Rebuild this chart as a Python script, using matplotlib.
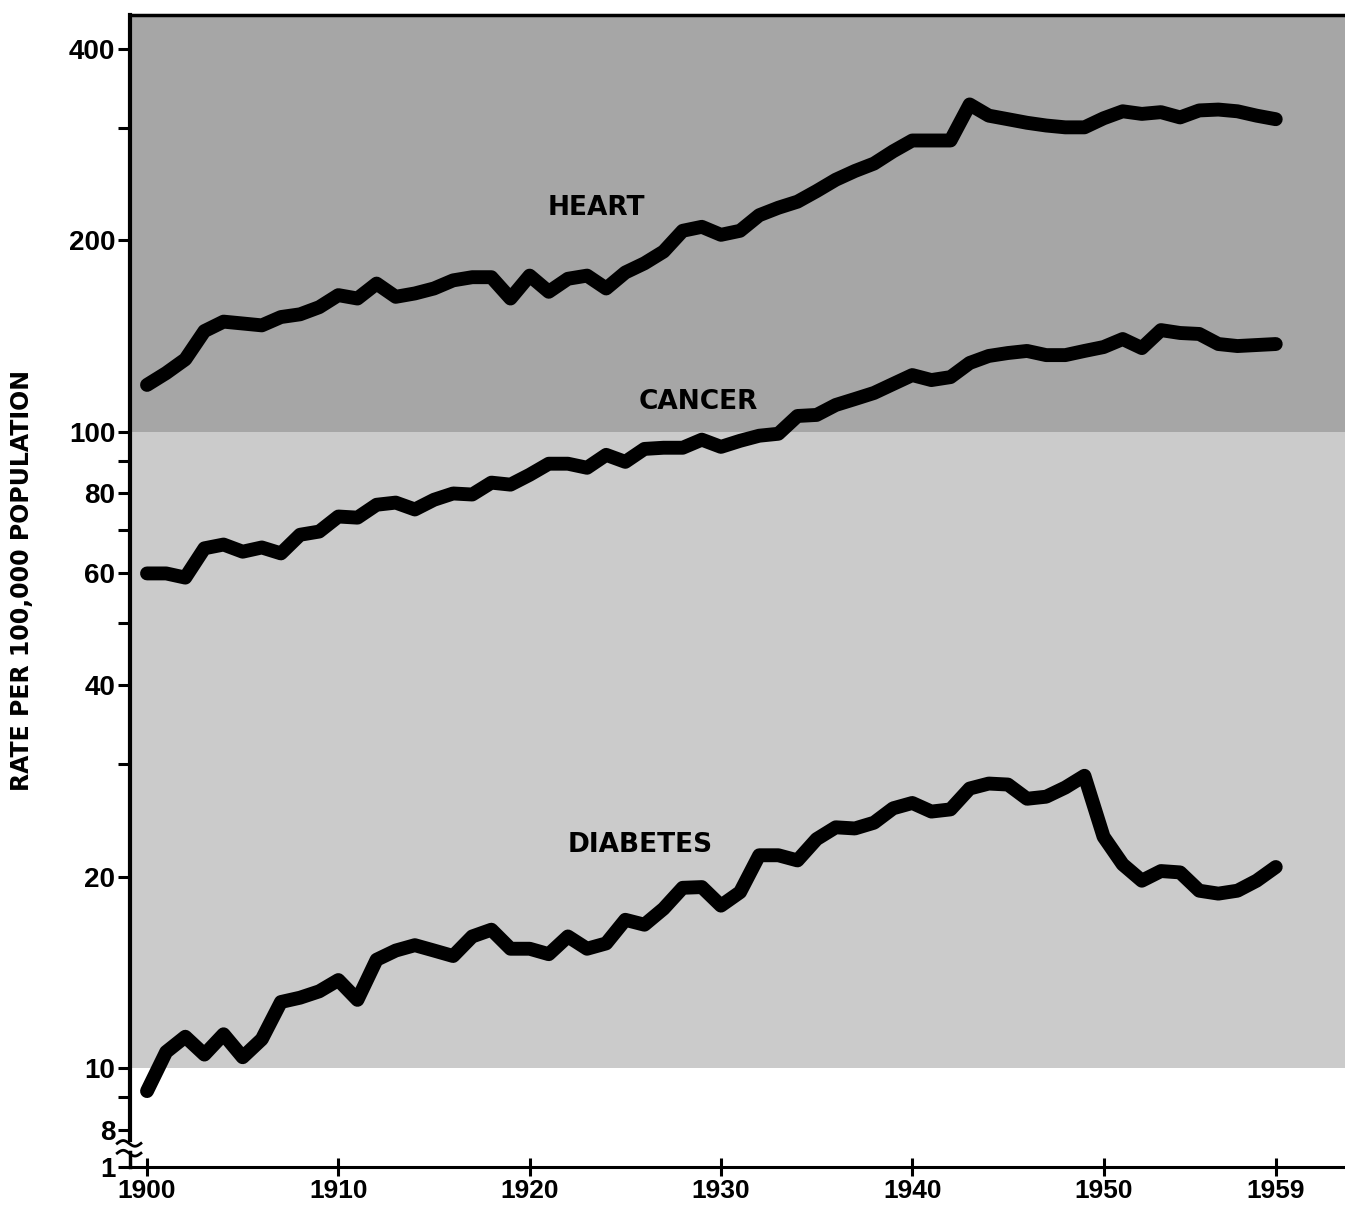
import matplotlib.pyplot as plt
from matplotlib.ticker import NullFormatter
import numpy as np

# death rates per 100,000 (log scale)
years = list(range(1900, 1960))
heart = [118.5, 123.7, 130, 144, 149, 148, 147, 151.5, 153, 157,
         164, 162, 171, 163, 165, 168, 173, 175, 175, 162,
         176, 166, 174, 176, 168, 178, 184, 192, 207, 210,
         204, 207, 219, 225, 230, 239, 249, 257, 264, 276,
         287, 287, 287, 327, 314, 310, 306, 303, 301, 301,
         311, 319, 316, 318, 312, 320, 321, 319, 314, 310]
cancer = [59.9, 59.9, 59.0, 65.6, 66.5, 64.8, 65.8, 64.4, 68.9, 69.7,
          73.6, 73.3, 76.8, 77.4, 75.5, 78.2, 80.0, 79.7, 83.2, 82.6,
          85.6, 89.1, 89.1, 87.8, 92.0, 89.7, 94.0, 94.4, 94.4, 97.2,
          94.7, 96.8, 98.6, 99.3, 105.9, 106.3, 110.2, 112.6, 115.1, 118.9,
          122.8, 120.6, 121.9, 128.3, 131.6, 133.0, 134.0, 132.0, 132.0, 134.0,
          135.9, 139.9, 135.4, 144.5, 143.0, 142.5, 137.4, 136.4, 136.9, 137.4]
diabetes = [9.2, 10.6, 11.2, 10.5, 11.3, 10.4, 11.1, 12.7, 12.9, 13.2,
            13.75, 12.8, 14.8, 15.3, 15.6, 15.3, 15.0, 16.1, 16.5, 15.4,
            15.4, 15.1, 16.1, 15.4, 15.7, 17.1, 16.8, 17.8, 19.2, 19.25,
            18.0, 18.9, 21.6, 21.6, 21.2, 22.9, 23.9, 23.8, 24.3, 25.6,
            26.1, 25.3, 25.5, 27.5, 28.0, 27.9, 26.5, 26.7, 27.6, 28.8,
            23.1, 20.9, 19.7, 20.4, 20.3, 19.0, 18.8, 19.0, 19.7, 20.7]

y_major = [400, 200, 100, 80, 60, 40, 20, 10, 8]
y_minor = [300, 90, 70, 50, 30, 9]
x_ticks = [1900, 1910, 1920, 1930, 1940, 1950, 1959]

plt.rcParams['font.family'] = ['Liberation Sans', 'DejaVu Sans']
plt.rcParams['font.weight'] = 'bold'

fig = plt.figure(figsize=(13.45, 12.09), dpi=100)
ax = fig.add_axes([130 / 1345, 42 / 1209, 1215 / 1345, 1152 / 1209])
ax.set_yscale('log')
ymin, ymax = 6.99, 452
ax.set_ylim(ymin, ymax)
ax.set_xlim(1899.11, 1962.62)

# shaded bands behind the curves
ax.axhspan(100, ymax, color='#a6a6a6', lw=0, zorder=0)
ax.axhspan(10, 100, color='#cbcbcb', lw=0, zorder=0)

for series in (heart, cancer, diabetes):
    ax.plot(years, series, color='black', lw=10,
            solid_capstyle='round', solid_joinstyle='round', zorder=3)

lbl = dict(fontsize=19, fontweight='bold', ha='center', va='center',
           family=['DejaVu Sans'], zorder=4)
ax.text(1923.5, 225, 'HEART', **lbl)
ax.text(1928.8, 111.5, 'CANCER', **lbl)
ax.text(1925.8, 22.4, 'DIABETES', **lbl)

# ticks
ax.set_yticks(y_major + [ymin], labels=[str(v) for v in y_major] + ['1'])
ax.set_yticks(y_minor, minor=True)
ax.yaxis.set_minor_formatter(NullFormatter())
ax.tick_params(axis='y', which='both', direction='out', length=8.5, width=2.2,
               labelsize=20, pad=2)
ax.set_xticks(x_ticks, labels=[str(x) for x in x_ticks])
ax.tick_params(axis='x', direction='inout', length=13, width=2.2,
               labelsize=19, pad=2)

ax.spines['right'].set_visible(False)
ax.spines['top'].set_linewidth(2.5)
ax.spines['bottom'].set_linewidth(2.2)
ax.spines['left'].set_linewidth(3)
ax.spines['left'].set_bounds(7.71, ymax)

# axis break near the bottom of the y axis
ax.plot([0, 0], [0, 0.013], transform=ax.transAxes, color='black',
        lw=2.5, clip_on=False)
wx = np.linspace(-0.0105, 0.009, 30)
wave = 0.0025 * np.sin((wx + 0.0105) / 0.0195 * 2 * np.pi)
ax.plot(wx, 0.0205 + wave, transform=ax.transAxes, color='black', lw=2,
        clip_on=False)
ax.plot(wx, 0.012 + wave, transform=ax.transAxes, color='black', lw=2,
        clip_on=False)

fig.text(22 / 1345, 0.52, 'RATE PER 100,000 POPULATION', rotation=90,
         ha='center', va='center', fontsize=17, fontweight='bold',
         family=['DejaVu Sans'])

fig.savefig('out.png', dpi=100)
